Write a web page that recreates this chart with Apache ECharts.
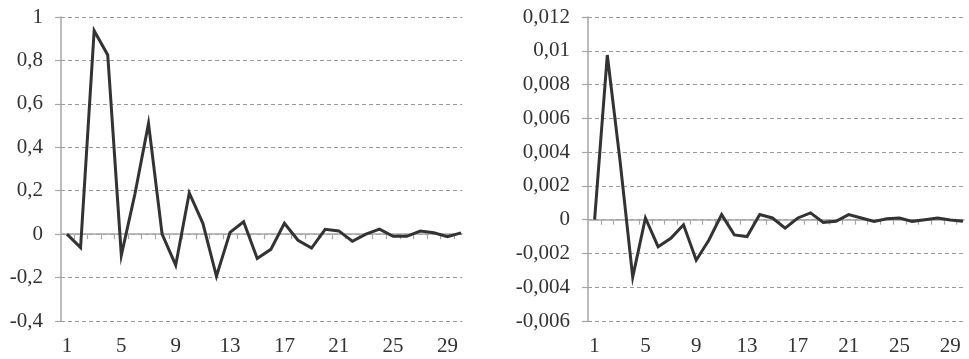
<!DOCTYPE html>
<html>
<head>
<meta charset="utf-8">
<script src="https://cdn.jsdelivr.net/npm/echarts@6/dist/echarts.min.js"></script>
<style>
  html, body { margin: 0; padding: 0; background: #fff; }
  #chart { width: 969px; height: 359px; }
</style>
</head>
<body>
<div id="chart"></div>
<script>
// Lag index shared by both panels
const periods = [1, 2, 3, 4, 5, 6, 7, 8, 9, 10, 11, 12, 13, 14, 15,
                 16, 17, 18, 19, 20, 21, 22, 23, 24, 25, 26, 27, 28, 29, 30];

// Left panel response
const leftValues = [0, -0.062, 0.937, 0.825, -0.097, 0.185, 0.51, 0.0, -0.143, 0.19,
                    0.05, -0.194, 0.008, 0.057, -0.112, -0.07, 0.05, -0.028, -0.064, 0.022,
                    0.015, -0.033, 0.0, 0.023, -0.01, -0.01, 0.014, 0.006, -0.012, 0.006];

// Right panel response
const rightValues = [0, 0.00975, 0.0035, -0.0034, 0.0001, -0.0016, -0.0011, -0.0003, -0.0024, -0.0012,
                     0.0003, -0.0009, -0.001, 0.0003, 0.0001, -0.0005, 0.0001, 0.0004, -0.00016, -0.0001,
                     0.0003, 0.0001, -0.0001, 0.00005, 0.0001, -0.0001, 0.0, 0.0001, -0.00002, -0.0001];

// Category labels shown under each panel
const xTickLabels = [1, 5, 9, 13, 17, 21, 25, 29];
// Small tick marks on the zero line, between neighbouring periods
const boundaryTicks = [1.5, 2.5, 3.5, 4.5, 5.5, 6.5, 7.5, 8.5, 9.5, 10.5, 11.5, 12.5, 13.5, 14.5,
                       15.5, 16.5, 17.5, 18.5, 19.5, 20.5, 21.5, 22.5, 23.5, 24.5, 25.5, 26.5, 27.5, 28.5, 29.5];

const FONT = '"Liberation Serif", "DejaVu Serif", serif';
const TEXT = '#333';
const AXIS = '#a6a6a6';

function decimalComma(v) {
  return String(parseFloat(v.toFixed(4))).replace('.', ',');
}

function labelAxis(gridIndex, min, max) {
  return {
    type: 'value', gridIndex, min, max, position: 'bottom',
    axisLine: { show: false, onZero: false },
    axisTick: { show: false },
    splitLine: { show: false },
    axisLabel: {
      customValues: xTickLabels, margin: 15,
      fontFamily: FONT, fontSize: 21, color: TEXT,
      formatter: v => String(v)
    }
  };
}

function zeroAxis(gridIndex, min, max) {
  return {
    type: 'value', gridIndex, min, max, position: 'bottom',
    axisLine: { show: true, onZero: true, lineStyle: { color: AXIS, width: 1.5 } },
    axisTick: { show: true, customValues: boundaryTicks, length: 5, lineStyle: { color: AXIS, width: 1.2 } },
    splitLine: { show: false },
    axisLabel: { show: false }
  };
}

function yAxis(gridIndex, min, max, interval) {
  return {
    type: 'value', gridIndex, min, max, interval,
    axisLine: { show: true, lineStyle: { color: AXIS, width: 1.5 } },
    axisTick: { show: true, length: 6, lineStyle: { color: AXIS, width: 1.2 } },
    splitLine: { show: true, lineStyle: { color: '#9a9a9a', type: [4, 3], width: 1.2 } },
    axisLabel: {
      margin: 18, fontFamily: FONT, fontSize: 21, color: TEXT,
      formatter: decimalComma
    }
  };
}

function lineSeries(idx, values) {
  return {
    type: 'line', xAxisIndex: idx, yAxisIndex: idx,
    data: periods.map((p, i) => [p, values[i]]),
    showSymbol: false, symbol: 'none', animation: false,
    lineStyle: { color: '#333', width: 3, join: 'miter' }
  };
}

const chart = echarts.init(document.getElementById('chart'), null, { renderer: 'canvas' });
chart.setOption({
  backgroundColor: '#fff',
  animation: false,
  grid: [
    { left: 61, right: 507, top: 17, bottom: 38 },
    { left: 588, right: 5, top: 17, bottom: 38 }
  ],
  xAxis: [
    zeroAxis(0, 0.56, 30.07),
    zeroAxis(1, 0.48, 30.08),
    labelAxis(0, 0.56, 30.07),
    labelAxis(1, 0.48, 30.08)
  ],
  yAxis: [
    yAxis(0, -0.4, 1, 0.2),
    yAxis(1, -0.006, 0.012, 0.002)
  ],
  series: [
    lineSeries(0, leftValues),
    lineSeries(1, rightValues)
  ]
});
</script>
</body>
</html>
